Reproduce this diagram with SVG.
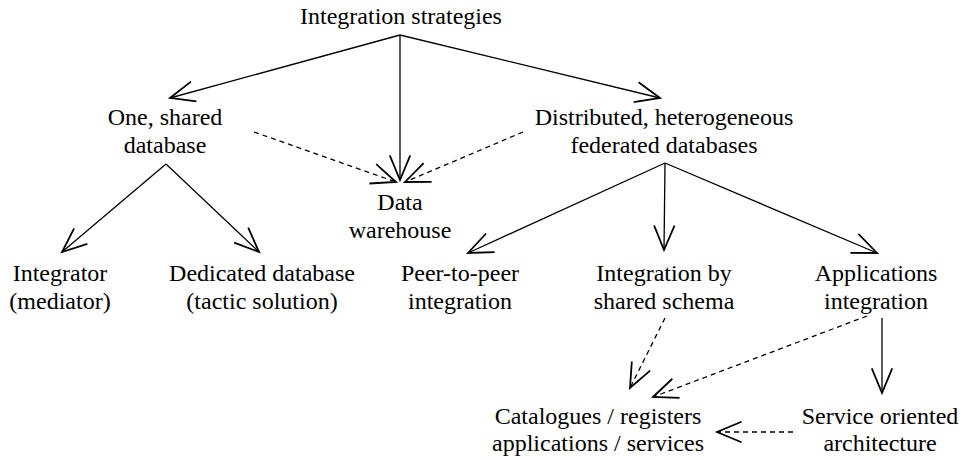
<svg xmlns="http://www.w3.org/2000/svg" width="965" height="460" viewBox="0 0 965 460">
  <style>
    text { font-family: 'Liberation Serif', 'DejaVu Serif', serif; font-size: 24px; fill: #000; text-anchor: middle; }
    .edge { fill: none; stroke: #000; stroke-width: 1.3; marker-end: url(#arrow); }
    .dashed { stroke-dasharray: 5 4; }
  </style>
  <defs>
    <marker id="arrow" markerUnits="userSpaceOnUse" markerWidth="30" markerHeight="30" viewBox="-20 -10 22 20" refX="0" refY="0" orient="auto" overflow="visible">
      <path d="M-18,-7.5 L0,0 L-18,7.5" fill="none" stroke="#000" stroke-width="1.3" stroke-dasharray="none"/>
    </marker>
  </defs>
  <rect width="965" height="460" fill="#fff"/>

  <g id="connectors">
    <!-- from the root -->
    <path class="edge" d="M400,35 L170,98"/>
    <path class="edge" d="M400,35 L400,180"/>
    <path class="edge" d="M400,35 L660,98"/>
    <!-- towards the data warehouse -->
    <path class="edge dashed" d="M254,132 L396,182"/>
    <path class="edge dashed" d="M523,132 L405,182"/>
    <!-- shared database branch -->
    <path class="edge" d="M166,164 L62,252"/>
    <path class="edge" d="M166,164 L259,252"/>
    <!-- federated branch -->
    <path class="edge" d="M665,163 L468,253"/>
    <path class="edge" d="M665,163 L664,250"/>
    <path class="edge" d="M665,163 L877,253"/>
    <!-- lower level -->
    <path class="edge" d="M882,318 L882,393"/>
    <path class="edge dashed" d="M665,318 L630,388"/>
    <path class="edge dashed" d="M867,316 L653,397"/>
    <path class="edge dashed" d="M793,432 L717,432"/>
  </g>

  <g font-family="Liberation Serif, serif">
    <g id="root"><text x="401" y="24">Integration strategies</text></g>
    <g id="shared-db"><text x="165" y="125">One, shared</text><text x="165" y="153">database</text></g>
    <g id="federated"><text x="664" y="125">Distributed, heterogeneous</text><text x="664" y="153">federated databases</text></g>
    <g id="warehouse"><text x="400" y="210">Data</text><text x="400" y="238">warehouse</text></g>
    <g id="integrator"><text x="60" y="281">Integrator</text><text x="60" y="309">(mediator)</text></g>
    <g id="dedicated"><text x="262" y="281">Dedicated database</text><text x="262" y="309">(tactic solution)</text></g>
    <g id="peer"><text x="460" y="281">Peer-to-peer</text><text x="460" y="309">integration</text></g>
    <g id="shared-schema"><text x="664" y="281">Integration by</text><text x="664" y="309">shared schema</text></g>
    <g id="applications"><text x="876" y="281">Applications</text><text x="876" y="309">integration</text></g>
    <g id="catalogues"><text x="598" y="424">Catalogues / registers</text><text x="598" y="451">applications / services</text></g>
    <g id="soa"><text x="880" y="424">Service oriented</text><text x="880" y="451">architecture</text></g>
  </g>
</svg>
